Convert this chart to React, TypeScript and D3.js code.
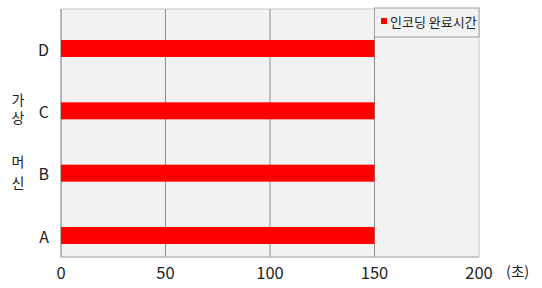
import React from "react";
import * as d3 from "d3";

const categories = ["A", "B", "C", "D"];
const values = [150, 150, 150, 150];
const xTicks = [0, 50, 100, 150, 200];
const seriesName = "인코딩 완료시간";
const yTitle = ["가", "상", "머", "신"];
const unitLabel = "(초)";

const W = 542;
const H = 288;
const plot = { left: 61, right: 479, top: 9, bottom: 257 };
const FONT = "'Noto Sans CJK KR', 'Noto Sans', sans-serif";

export default function App() {
  const x = d3.scaleLinear().domain([0, 200]).range([plot.left, plot.right]);
  const y = d3.scalePoint<string>().domain(categories).range([235.5, 48.5]);
  const barH = 17;

  return (
    <svg
      width={W}
      height={H}
      style={{ position: "absolute", left: 0, top: 0, background: "#fff" }}
      fontFamily={FONT}
    >
      <rect
        x={plot.left}
        y={plot.top}
        width={plot.right - plot.left}
        height={plot.bottom - plot.top}
        fill="#f2f2f2"
        stroke="#c8c8c8"
      />
      {xTicks.slice(1, -1).map((t) => (
        <line
          key={t}
          x1={x(t)}
          x2={x(t)}
          y1={plot.top}
          y2={plot.bottom}
          stroke="#8c8c8c"
          strokeWidth={1}
        />
      ))}
      <line x1={plot.left} x2={plot.left} y1={plot.top} y2={plot.bottom} stroke="#8c8c8c" />
      <line x1={plot.left} x2={plot.right} y1={plot.bottom} y2={plot.bottom} stroke="#b4b4b4" />
      {categories.map((c, i) => (
        <rect
          key={c}
          x={x(0)}
          y={(y(c) as number) - barH / 2}
          width={x(values[i]) - x(0)}
          height={barH}
          fill="#ff0000"
        />
      ))}
      {categories.map((c) => (
        <text
          key={c}
          x={49}
          y={y(c) as number}
          textAnchor="end"
          dominantBaseline="central"
          fontSize={16}
          fill="#222"
        >
          {c}
        </text>
      ))}
      {xTicks.map((t) => (
        <text
          key={t}
          x={x(t)}
          y={272}
          textAnchor="middle"
          dominantBaseline="central"
          fontSize={16.5}
          fill="#222"
        >
          {t}
        </text>
      ))}
      <text x={506} y={270} dominantBaseline="central" fontSize={14.5} fill="#222">
        {unitLabel}
      </text>
      {yTitle.map((ch, i) => (
        <text
          key={i}
          x={18}
          y={[98.5, 117, 161, 181.5][i]}
          textAnchor="middle"
          dominantBaseline="central"
          fontSize={14}
          fill="#222"
        >
          {ch}
        </text>
      ))}
      <rect x={x(150)} y={8} width={plot.right - x(150)} height={29} fill="#f2f2f2" stroke="#a0a0a0" />
      <rect x={381} y={18} width={6} height={6} fill="#ff0000" />
      <text x={390} y={21.5} dominantBaseline="central" fontSize={13} fill="#222">
        {seriesName}
      </text>
    </svg>
  );
}
